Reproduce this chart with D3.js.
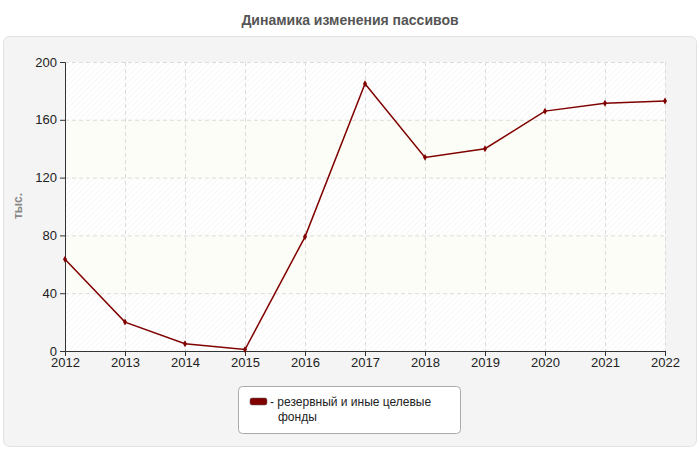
<!DOCTYPE html>
<html><head><meta charset="utf-8">
<script src="https://cdn.jsdelivr.net/npm/d3@7"></script>
<style>body{margin:0;background:#fff}text{font-family:"Liberation Sans",Arial,sans-serif}</style>
</head><body><svg width="700" height="450"></svg>
<script>
const years = ['2012','2013','2014','2015','2016','2017','2018','2019','2020','2021','2022'];
const values = [63.5, 20, 5, 1, 79, 185, 134, 140, 166, 171.5, 173];
const yTicks = [0, 40, 80, 120, 160, 200];
const seriesName = ['- резервный и иные целевые', 'фонды'];

const svg = d3.select('svg');
const m = {l: 65, r: 665, t: 62, b: 351};

const defs = svg.append('defs');
const pat = defs.append('pattern').attr('id', 'hatch').attr('width', 4).attr('height', 4)
  .attr('patternUnits', 'userSpaceOnUse').attr('patternTransform', 'rotate(45)');
pat.append('rect').attr('width', 4).attr('height', 4).attr('fill', '#fff');
pat.append('line').attr('x1', 0).attr('y1', 0).attr('x2', 0).attr('y2', 4).attr('stroke', '#f0f0f0').attr('stroke-width', 1);

svg.append('text').attr('x', 350).attr('y', 25).attr('text-anchor', 'middle')
  .attr('font-size', 14).attr('font-weight', 'bold').attr('fill', '#555').text('Динамика изменения пассивов');

svg.append('rect').attr('x', 3.5).attr('y', 36.5).attr('width', 693).attr('height', 410).attr('rx', 6)
  .attr('fill', '#f4f4f4').attr('stroke', '#e2e2e2');

const x = d3.scalePoint().domain(years).range([m.l, m.r]);
const y = d3.scaleLinear().domain([0, 200]).range([m.b, m.t]);

const bands = d3.pairs(yTicks);
svg.append('g').selectAll('rect').data(bands).join('rect')
  .attr('x', m.l).attr('width', m.r - m.l)
  .attr('y', d => y(d[1])).attr('height', d => y(d[0]) - y(d[1]))
  .attr('fill', (d, i) => i % 2 ? '#fdfdf7' : 'url(#hatch)');

const grid = svg.append('g').attr('stroke', '#dcdcdc').attr('stroke-dasharray', '4,3');
grid.selectAll('.h').data(yTicks.slice(1)).join('line')
  .attr('x1', m.l).attr('x2', m.r).attr('y1', d => y(d) + .5).attr('y2', d => y(d) + .5);
grid.selectAll('.v').data(years.slice(1)).join('line')
  .attr('y1', m.t).attr('y2', m.b).attr('x1', d => x(d) + .5).attr('x2', d => x(d) + .5);

const ya = svg.append('g').attr('transform', `translate(${m.l},0)`)
  .call(d3.axisLeft(y).tickValues(yTicks).tickSize(5).tickPadding(3));
const xa = svg.append('g').attr('transform', `translate(0,${m.b})`)
  .call(d3.axisBottom(x).tickSize(5).tickPadding(2));
[ya, xa].forEach(a => {
  a.select('.domain').attr('stroke', '#333');
  a.selectAll('line').attr('stroke', '#333');
  a.selectAll('text').style('font-size', '13px').attr('fill', '#222');
});

svg.append('text').attr('transform', 'translate(22,206) rotate(-90)').attr('text-anchor', 'middle')
  .attr('font-size', 12).attr('font-weight', 'bold').attr('fill', '#888').text('тыс.');

const line = d3.line().x((d, i) => x(years[i])).y(d => y(d));
svg.append('path').datum(values).attr('d', line).attr('fill', 'none').attr('stroke', '#800000').attr('stroke-width', 1.5);
svg.append('g').selectAll('path').data(values).join('path')
  .attr('d', d3.symbol(d3.symbolDiamond, 14)).attr('fill', '#800000')
  .attr('transform', (d, i) => `translate(${x(years[i])},${y(d)})`);

svg.append('rect').attr('x', 238.5).attr('y', 386.5).attr('width', 222).attr('height', 47).attr('rx', 4)
  .attr('fill', '#fff').attr('stroke', '#aaa');
svg.append('rect').attr('x', 250).attr('y', 398).attr('width', 17).attr('height', 7).attr('rx', 2).attr('fill', '#800000').attr('stroke', '#555').attr('stroke-width', .5);
svg.append('text').attr('x', 270).attr('y', 406).attr('font-size', 12).attr('fill', '#222')
  .selectAll('tspan').data(seriesName).join('tspan')
  .attr('x', (d, i) => i ? 278 : 270).attr('dy', (d, i) => i ? 15 : 0).text(d => d);
</script></body></html>
